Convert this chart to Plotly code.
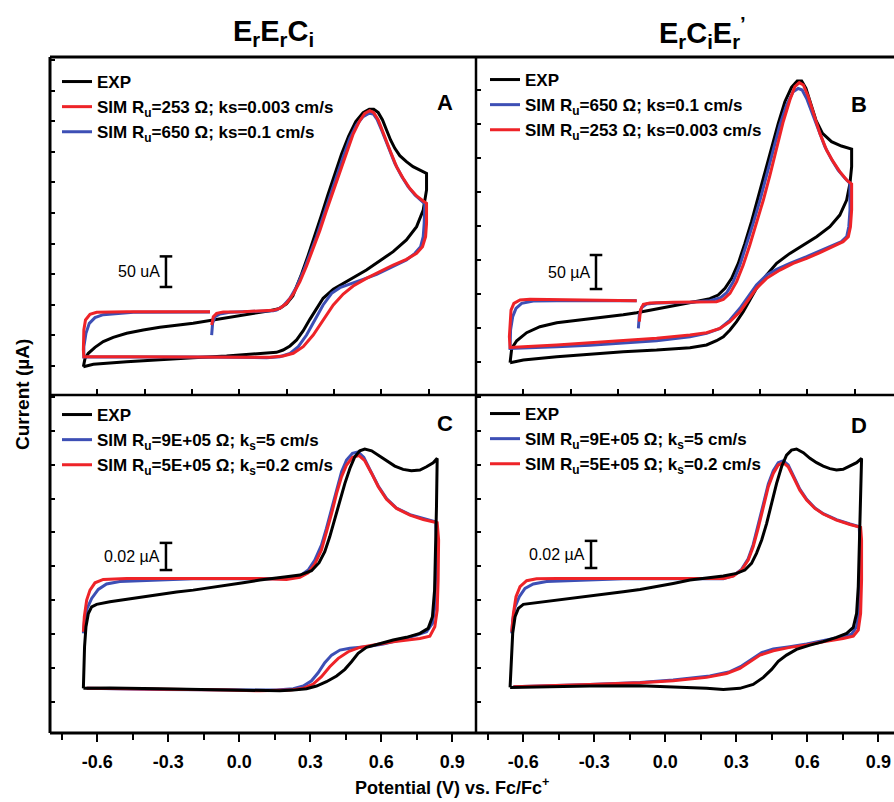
import plotly.graph_objects as go

FONT = "Liberation Sans, Arial, Helvetica, sans-serif"
BLACK = "#000000"
RED = "#ee2328"
BLUE = "#3d4fb5"

# ---------------- data: [potential (V vs Fc/Fc+), current (uA)] ----------------
A_EXP = [[-0.659,-1.1],[-0.617,2.7],[-0.476,7.1],[-0.336,10.9],[-0.195,13.6],[-0.054,16.3],[0.087,19.6],
         [0.157,22.3],[0.185,26.1],[0.214,32.7],[0.242,42.5],[0.270,57.7],[0.298,76.2],[0.326,94.2],
         [0.354,110.6],[0.397,125.3],[0.439,135.1],[0.481,144.3],[0.537,156.9],[0.594,172.1],[0.650,186.8],
         [0.706,205.9],[0.749,227.7],[0.777,254.9],[0.791,287.6],[0.791,314.8],[0.763,320.3],[0.734,325.7],
         [0.706,333.9],[0.678,343.7],[0.657,355.7],[0.639,369.3],[0.622,385.6],[0.605,402.0],[0.587,414.0],
         [0.568,419.4],[0.549,419.4],[0.523,414.0],[0.492,399.3],[0.462,375.8],[0.432,346.4],[0.403,313.7],
         [0.374,279.4],[0.346,245.1],[0.318,211.3],[0.290,179.7],[0.263,150.3],[0.243,129.6],[0.226,114.4],
         [0.199,101.3],[0.171,94.2],[0.129,90.4],[0.087,87.7],[0.016,83.3],[-0.054,78.4],[-0.124,73.5],
         [-0.195,69.7],[-0.265,66.4],[-0.336,63.2],[-0.406,58.8],[-0.476,53.4],[-0.533,46.8],[-0.575,39.8],
         [-0.610,30.5],[-0.638,20.7],[-0.652,12.5],[-0.659,-1.1]]
A_RED = [[-0.117,67.0],[-0.110,80.6],[-0.096,86.0],[-0.068,88.2],[0.016,88.8],[0.087,89.3],[0.143,90.9],
         [0.171,94.2],[0.199,102.4],[0.228,117.6],[0.256,137.8],[0.284,163.4],[0.312,190.6],[0.340,221.1],
         [0.368,253.8],[0.397,286.5],[0.425,319.2],[0.453,350.8],[0.481,379.1],[0.509,400.9],[0.530,412.9],
         [0.551,417.2],[0.568,414.0],[0.587,402.0],[0.608,380.2],[0.636,353.0],[0.664,325.7],[0.692,306.7],
         [0.720,290.3],[0.749,277.8],[0.777,269.6],[0.791,265.8],[0.791,233.1],[0.787,211.3],[0.774,195.0],
         [0.749,184.1],[0.706,174.3],[0.650,165.0],[0.594,154.1],[0.537,143.2],[0.481,130.7],[0.439,117.6],
         [0.397,99.7],[0.354,75.2],[0.312,50.6],[0.270,31.6],[0.228,20.7],[0.185,16.3],[0.129,14.2],
         [0.059,14.2],[-0.195,15.2],[-0.476,15.2],[-0.657,15.2],[-0.659,26.1],[-0.657,58.8],[-0.650,75.2],
         [-0.631,84.4],[-0.603,87.7],[-0.476,88.8],[-0.124,88.8]]
A_BLUE = [[-0.117,50.6],[-0.113,69.7],[-0.103,80.6],[-0.082,84.9],[-0.040,87.7],[0.087,88.8],[0.143,90.4],
          [0.157,91.5],[0.185,98.0],[0.214,110.6],[0.242,129.6],[0.270,154.1],[0.298,181.4],[0.326,211.3],
          [0.354,244.0],[0.382,276.7],[0.411,309.4],[0.439,342.1],[0.467,372.0],[0.495,393.8],[0.523,407.4],
          [0.549,412.9],[0.566,411.8],[0.582,403.1],[0.601,385.6],[0.629,358.4],[0.657,331.2],[0.685,310.5],
          [0.713,293.0],[0.742,279.4],[0.770,270.2],[0.784,264.7],[0.781,233.1],[0.777,211.3],[0.766,195.0],
          [0.742,184.1],[0.706,173.2],[0.664,165.0],[0.622,156.9],[0.580,149.8],[0.523,141.6],[0.467,134.0],
          [0.425,128.0],[0.390,118.7],[0.354,99.7],[0.319,75.2],[0.284,50.6],[0.249,31.6],[0.214,20.7],
          [0.171,15.2],[0.115,13.6],[-0.195,14.7],[-0.617,14.7],[-0.657,14.7],[-0.657,31.6],[-0.648,53.4],
          [-0.634,69.7],[-0.610,79.0],[-0.575,83.9],[-0.519,86.0],[-0.448,87.7],[-0.124,88.2]]

B_EXP = [[-0.656,-1.0],[-0.600,2.9],[-0.459,7.8],[-0.319,11.7],[-0.178,15.2],[-0.037,17.6],[0.104,21.1],
         [0.174,25.0],[0.216,31.3],[0.245,37.2],[0.273,47.0],[0.301,59.3],[0.329,74.0],[0.357,91.1],
         [0.385,108.3],[0.428,127.9],[0.470,145.0],[0.526,159.7],[0.583,172.0],[0.639,184.2],[0.695,198.9],
         [0.737,216.0],[0.766,238.1],[0.780,262.6],[0.787,287.1],[0.787,313.1],[0.744,317.5],[0.702,323.9],
         [0.664,336.1],[0.636,355.7],[0.614,380.2],[0.594,402.2],[0.576,413.0],[0.557,413.0],[0.533,403.7],
         [0.505,382.7],[0.477,350.8],[0.449,314.0],[0.421,277.3],[0.393,240.5],[0.364,206.2],[0.336,174.4],
         [0.308,145.0],[0.280,123.0],[0.252,108.3],[0.223,98.5],[0.188,93.1],[0.146,90.1],[0.104,87.2],
         [0.033,82.3],[-0.037,77.4],[-0.121,72.5],[-0.178,69.6],[-0.319,64.2],[-0.459,57.8],[-0.530,51.9],
         [-0.586,43.1],[-0.628,31.3],[-0.649,20.1],[-0.656,-1.0]]
B_RED = [[-0.110,59.3],[-0.105,76.4],[-0.093,84.7],[-0.065,86.7],[0.033,87.7],[0.160,88.7],[0.216,88.7],
         [0.245,92.1],[0.273,100.9],[0.301,118.1],[0.329,142.5],[0.357,172.0],[0.385,203.8],[0.414,238.1],
         [0.442,274.9],[0.470,314.0],[0.498,353.3],[0.526,385.1],[0.547,404.7],[0.566,410.6],[0.583,407.2],
         [0.604,390.0],[0.625,365.5],[0.653,336.1],[0.681,311.6],[0.709,294.5],[0.737,279.8],[0.766,267.5],
         [0.787,261.6],[0.787,223.4],[0.782,198.9],[0.773,184.2],[0.751,176.9],[0.709,169.5],[0.653,160.7],
         [0.597,152.4],[0.540,145.0],[0.484,135.2],[0.428,123.0],[0.385,108.3],[0.350,91.1],[0.315,74.0],
         [0.273,59.3],[0.231,49.5],[0.174,43.1],[0.104,39.7],[-0.037,34.8],[-0.178,31.3],[-0.319,28.4],
         [-0.459,25.0],[-0.600,22.5],[-0.656,21.5],[-0.659,37.2],[-0.656,61.7],[-0.652,76.4],[-0.640,86.2],
         [-0.614,91.1],[-0.572,92.1],[-0.459,91.6],[-0.319,91.1],[-0.121,90.1]]
B_BLUE = [[-0.114,49.5],[-0.110,69.1],[-0.100,80.3],[-0.079,85.2],[-0.037,86.7],[0.104,87.7],[0.188,90.1],
          [0.231,94.0],[0.259,101.9],[0.287,118.1],[0.315,142.5],[0.343,172.0],[0.371,203.8],[0.400,238.1],
          [0.428,274.9],[0.456,311.6],[0.484,348.4],[0.512,377.8],[0.540,397.4],[0.561,402.2],[0.578,399.8],
          [0.597,387.5],[0.618,368.0],[0.646,341.0],[0.674,316.5],[0.702,297.9],[0.730,282.2],[0.759,270.0],
          [0.780,262.6],[0.780,223.4],[0.775,198.9],[0.766,184.2],[0.744,176.9],[0.695,169.5],[0.639,160.7],
          [0.597,154.8],[0.526,145.0],[0.470,136.2],[0.428,127.9],[0.385,113.2],[0.350,96.0],[0.315,78.9],
          [0.273,61.7],[0.231,49.5],[0.174,42.1],[0.104,37.2],[-0.037,31.3],[-0.178,27.4],[-0.319,24.5],
          [-0.459,22.5],[-0.600,20.1],[-0.656,20.1],[-0.654,47.0],[-0.645,66.6],[-0.631,78.9],[-0.607,86.2],
          [-0.558,89.6],[-0.459,90.1],[-0.121,90.1]]

C_EXP = [[-0.659,0.0101],[-0.547,0.0103],[-0.336,0.0098],[-0.124,0.0093],[0.087,0.0088],[0.171,0.0083],
         [0.228,0.0088],[0.284,0.0098],[0.326,0.0118],[0.368,0.0150],[0.411,0.0192],[0.446,0.0241],
         [0.474,0.0297],[0.502,0.0359],[0.537,0.0403],[0.594,0.0432],[0.650,0.0457],[0.706,0.0477],
         [0.763,0.0506],[0.798,0.0543],[0.816,0.0629],[0.825,0.0825],[0.830,0.1120],[0.833,0.1440],
         [0.836,0.1796],[0.819,0.1764],[0.791,0.1734],[0.763,0.1710],[0.727,0.1705],[0.692,0.1715],
         [0.657,0.1739],[0.622,0.1779],[0.587,0.1820],[0.559,0.1852],[0.530,0.1865],[0.509,0.1852],
         [0.488,0.1808],[0.467,0.1722],[0.446,0.1612],[0.425,0.1476],[0.404,0.1341],[0.382,0.1218],
         [0.361,0.1108],[0.337,0.1027],[0.305,0.0968],[0.256,0.0936],[0.199,0.0924],[0.143,0.0914],
         [0.087,0.0899],[0.016,0.0879],[-0.054,0.0860],[-0.124,0.0845],[-0.195,0.0825],[-0.265,0.0811],
         [-0.336,0.0793],[-0.406,0.0776],[-0.476,0.0759],[-0.547,0.0739],[-0.603,0.0720],[-0.624,0.0702],
         [-0.638,0.0653],[-0.648,0.0555],[-0.654,0.0408],[-0.658,0.0236],[-0.659,0.0101]]
C_RED = [[-0.659,0.0518],[-0.655,0.0629],[-0.645,0.0752],[-0.631,0.0825],[-0.610,0.0879],[-0.575,0.0904],
         [-0.476,0.0911],[-0.195,0.0911],[0.087,0.0911],[0.199,0.0904],[0.256,0.0919],[0.291,0.0953],
         [0.319,0.1017],[0.347,0.1120],[0.368,0.1243],[0.390,0.1390],[0.411,0.1538],[0.432,0.1661],
         [0.453,0.1747],[0.478,0.1803],[0.506,0.1816],[0.530,0.1779],[0.559,0.1685],[0.587,0.1587],
         [0.622,0.1494],[0.664,0.1427],[0.721,0.1378],[0.777,0.1346],[0.836,0.1322],[0.842,0.1194],
         [0.840,0.0899],[0.836,0.0678],[0.826,0.0555],[0.805,0.0486],[0.763,0.0469],[0.706,0.0457],
         [0.650,0.0445],[0.580,0.0425],[0.509,0.0403],[0.460,0.0371],[0.418,0.0322],[0.382,0.0260],
         [0.347,0.0187],[0.312,0.0133],[0.270,0.0101],[0.214,0.0088],[0.087,0.0083],[-0.054,0.0088],
         [-0.336,0.0093],[-0.476,0.0101],[-0.645,0.0101]]
C_BLUE = [[-0.659,0.0506],[-0.654,0.0604],[-0.643,0.0690],[-0.624,0.0764],[-0.596,0.0830],[-0.561,0.0870],
          [-0.505,0.0889],[-0.195,0.0909],[0.087,0.0909],[0.199,0.0909],[0.256,0.0929],[0.291,0.0973],
          [0.319,0.1046],[0.347,0.1157],[0.368,0.1280],[0.390,0.1427],[0.411,0.1575],[0.432,0.1698],
          [0.453,0.1784],[0.478,0.1833],[0.502,0.1843],[0.526,0.1803],[0.554,0.1705],[0.587,0.1592],
          [0.622,0.1499],[0.664,0.1430],[0.721,0.1381],[0.777,0.1351],[0.830,0.1327],[0.833,0.1194],
          [0.830,0.0899],[0.826,0.0702],[0.816,0.0580],[0.791,0.0518],[0.749,0.0494],[0.678,0.0457],
          [0.608,0.0428],[0.537,0.0408],[0.467,0.0396],[0.425,0.0383],[0.390,0.0346],[0.361,0.0290],
          [0.333,0.0216],[0.305,0.0157],[0.270,0.0118],[0.228,0.0098],[0.157,0.0088],[-0.054,0.0088],
          [-0.336,0.0093],[-0.645,0.0101]]

D_EXP = [[-0.656,0.0108],[-0.530,0.0113],[-0.319,0.0118],[-0.107,0.0120],[0.033,0.0113],[0.174,0.0101],
         [0.245,0.0093],[0.315,0.0101],[0.371,0.0130],[0.414,0.0182],[0.449,0.0241],[0.477,0.0300],
         [0.512,0.0346],[0.554,0.0388],[0.611,0.0420],[0.667,0.0445],[0.723,0.0477],[0.766,0.0506],
         [0.794,0.0550],[0.808,0.0653],[0.815,0.0850],[0.819,0.1145],[0.822,0.1440],[0.829,0.1796],
         [0.808,0.1764],[0.780,0.1739],[0.751,0.1715],[0.723,0.1710],[0.695,0.1720],[0.667,0.1739],
         [0.639,0.1764],[0.611,0.1796],[0.583,0.1838],[0.554,0.1865],[0.533,0.1857],[0.512,0.1820],
         [0.491,0.1734],[0.470,0.1612],[0.449,0.1464],[0.428,0.1317],[0.407,0.1194],[0.385,0.1096],
         [0.364,0.1022],[0.336,0.0973],[0.301,0.0948],[0.245,0.0929],[0.174,0.0914],[0.104,0.0899],
         [0.033,0.0874],[-0.037,0.0850],[-0.107,0.0830],[-0.178,0.0813],[-0.319,0.0781],[-0.459,0.0752],
         [-0.558,0.0732],[-0.600,0.0720],[-0.621,0.0690],[-0.635,0.0629],[-0.645,0.0506],[-0.649,0.0334],
         [-0.654,0.0211],[-0.656,0.0108]]
D_RED = [[-0.649,0.0518],[-0.642,0.0653],[-0.631,0.0776],[-0.614,0.0850],[-0.586,0.0894],[-0.544,0.0909],
         [-0.459,0.0911],[-0.178,0.0911],[0.245,0.0911],[0.287,0.0929],[0.322,0.0973],[0.350,0.1046],
         [0.371,0.1145],[0.392,0.1280],[0.414,0.1440],[0.435,0.1587],[0.456,0.1685],[0.477,0.1747],
         [0.498,0.1764],[0.519,0.1734],[0.540,0.1661],[0.568,0.1562],[0.597,0.1489],[0.632,0.1427],
         [0.667,0.1386],[0.723,0.1341],[0.780,0.1309],[0.825,0.1287],[0.829,0.1194],[0.829,0.0899],
         [0.825,0.0653],[0.815,0.0531],[0.794,0.0486],[0.751,0.0469],[0.667,0.0445],[0.597,0.0420],
         [0.526,0.0403],[0.456,0.0378],[0.400,0.0346],[0.357,0.0297],[0.315,0.0248],[0.259,0.0211],
         [0.174,0.0182],[0.033,0.0157],[-0.107,0.0142],[-0.319,0.0130],[-0.459,0.0123],[-0.642,0.0113]]
D_BLUE = [[-0.649,0.0506],[-0.645,0.0604],[-0.635,0.0702],[-0.617,0.0776],[-0.593,0.0838],[-0.558,0.0870],
          [-0.502,0.0889],[-0.178,0.0909],[0.245,0.0909],[0.287,0.0931],[0.322,0.0978],[0.350,0.1056],
          [0.371,0.1160],[0.392,0.1297],[0.414,0.1459],[0.435,0.1607],[0.456,0.1705],[0.477,0.1764],
          [0.498,0.1779],[0.519,0.1747],[0.540,0.1671],[0.568,0.1570],[0.597,0.1494],[0.632,0.1430],
          [0.667,0.1388],[0.723,0.1344],[0.780,0.1312],[0.819,0.1292],[0.822,0.1194],[0.822,0.0899],
          [0.819,0.0678],[0.808,0.0555],[0.787,0.0501],[0.737,0.0477],[0.667,0.0450],[0.597,0.0428],
          [0.526,0.0408],[0.456,0.0391],[0.407,0.0364],[0.364,0.0317],[0.322,0.0265],[0.273,0.0224],
          [0.188,0.0192],[0.033,0.0162],[-0.107,0.0145],[-0.319,0.0130],[-0.642,0.0113]]

# scale bars: x position (V), bottom (uA), length (uA), label
SCALE_X = [-0.310, -0.293, -0.310, -0.314]
SCALE_Y0 = [129.1, 107.3, 0.0973, 0.0988]
SCALE_LEN = [50, 50, 0.02, 0.02]
SCALE_TEXT = ["50 uA", "50 \u00b5A", "0.02 \u00b5A", "0.02 \u00b5A"]

LEG_RED_AB = "SIM R<sub>u</sub>=253 \u03a9; ks=0.003 cm/s"
LEG_BLUE_AB = "SIM R<sub>u</sub>=650 \u03a9; ks=0.1 cm/s"
LEG_BLUE_CD = "SIM R<sub>u</sub>=9E+05 \u03a9; k<sub>s</sub>=5 cm/s"
LEG_RED_CD = "SIM R<sub>u</sub>=5E+05 \u03a9; k<sub>s</sub>=0.2 cm/s"

BOTTOM_XTICKS = [-0.6, -0.3, 0.0, 0.3, 0.6, 0.9]
BOTTOM_XTEXT = ["-0.6", "-0.3", "0.0", "0.3", "0.6", "0.9"]
BOTTOM_XMINOR = [-0.75, -0.45, -0.15, 0.15, 0.45, 0.75]
TOP_XTICKS = [-0.6, -0.4, -0.2, 0.0, 0.2, 0.4, 0.6, 0.8]

fig = go.Figure()


def add_curve(pairs, color, name, xa, ya, legend, rank, group):
    fig.add_trace(go.Scatter(
        x=[p[0] for p in pairs], y=[p[1] for p in pairs], mode="lines",
        line=dict(color=color, width=3), name=name, xaxis=xa, yaxis=ya,
        legend=legend, legendrank=rank, legendgroup=group, hoverinfo="skip"))


# Panel A (black, blue, red on top)
add_curve(A_EXP, BLACK, "EXP", "x", "y", "legend", 1, "a1")
add_curve(A_BLUE, BLUE, LEG_BLUE_AB, "x", "y", "legend", 3, "a3")
add_curve(A_RED, RED, LEG_RED_AB, "x", "y", "legend", 2, "a2")
# Panel B
add_curve(B_EXP, BLACK, "EXP", "x2", "y2", "legend2", 1, "b1")
add_curve(B_BLUE, BLUE, LEG_BLUE_AB, "x2", "y2", "legend2", 2, "b2")
add_curve(B_RED, RED, LEG_RED_AB, "x2", "y2", "legend2", 3, "b3")
# Panel C (sims first, experiment on top)
add_curve(C_BLUE, BLUE, LEG_BLUE_CD, "x3", "y3", "legend3", 2, "c2")
add_curve(C_RED, RED, LEG_RED_CD, "x3", "y3", "legend3", 3, "c3")
add_curve(C_EXP, BLACK, "EXP", "x3", "y3", "legend3", 1, "c1")
# Panel D
add_curve(D_BLUE, BLUE, LEG_BLUE_CD, "x4", "y4", "legend4", 2, "d2")
add_curve(D_RED, RED, LEG_RED_CD, "x4", "y4", "legend4", 3, "d3")
add_curve(D_EXP, BLACK, "EXP", "x4", "y4", "legend4", 1, "d1")

# scale bars
axes_pairs = [("x", "y"), ("x2", "y2"), ("x3", "y3"), ("x4", "y4")]
annotations = []
for (xa, ya), sx, sy, sl, st in zip(axes_pairs, SCALE_X, SCALE_Y0, SCALE_LEN, SCALE_TEXT):
    fig.add_trace(go.Scatter(
        x=[sx, sx], y=[sy, sy + sl], mode="lines+markers", xaxis=xa, yaxis=ya,
        line=dict(color="black", width=2.5),
        marker=dict(symbol="line-ew", size=9, line=dict(color="black", width=2.5)),
        showlegend=False, hoverinfo="skip"))
    annotations.append(dict(
        x=sx, y=sy + sl / 2, xref=xa, yref=ya, text=st, showarrow=False,
        xanchor="right", yanchor="middle", xshift=-4,
        font=dict(family=FONT, size=16, color="black")))

XSPLIT = 426 / 844.0


def top_x(domain, anchor, rng):
    return dict(domain=domain, anchor=anchor, range=rng, showgrid=False, zeroline=False,
                showline=False, ticks="inside", tickmode="array", tickvals=TOP_XTICKS,
                ticklen=6, tickwidth=2, tickcolor="black", showticklabels=False)


def bottom_x(domain, anchor, rng):
    return dict(domain=domain, anchor=anchor, range=rng, showgrid=False, zeroline=False,
                showline=False, ticks="outside", tickmode="array", tickvals=BOTTOM_XTICKS,
                ticktext=BOTTOM_XTEXT, ticklen=8, tickwidth=2, tickcolor="black",
                ticklabelstandoff=4,
                tickfont=dict(family=FONT, size=18, color="black", weight="bold"),
                minor=dict(tickmode="array", tickvals=BOTTOM_XMINOR, ticks="outside",
                           ticklen=6, tickwidth=2, tickcolor="black"))


def y_ax(domain, anchor, rng, dtick):
    return dict(domain=domain, anchor=anchor, range=rng, showgrid=False, zeroline=False,
                showline=False, ticks="inside", tick0=0, dtick=dtick, ticklen=5, tickwidth=2,
                tickcolor="black", showticklabels=False)


leg_common = dict(xanchor="left", yanchor="top", bgcolor="rgba(0,0,0,0)", borderwidth=0,
                  font=dict(family=FONT, size=17, color="black", weight="bold"),
                  tracegroupgap=4, traceorder="normal")

annotations += [
    dict(text="E<sub>r</sub>E<sub>r</sub>C<sub>i</sub>", x=(273 - 50) / 844, y=1.0355,
         xref="paper", yref="paper", showarrow=False, xanchor="center", yanchor="middle",
         font=dict(family=FONT, size=29, color="black", weight="bold")),
    dict(text="E<sub>r</sub>C<sub>i</sub>E<sub>r</sub><sup>\u2019</sup>", x=(702 - 50) / 844, y=1.0355,
         xref="paper", yref="paper", showarrow=False, xanchor="center", yanchor="middle",
         font=dict(family=FONT, size=29, color="black", weight="bold")),
    dict(text="A", x=(445 - 50) / 844, y=(733 - 88) / 676, xref="paper", yref="paper",
         showarrow=False, font=dict(family=FONT, size=22, color="black", weight="bold")),
    dict(text="B", x=(869 - 50) / 844, y=(733 - 90) / 676, xref="paper", yref="paper",
         showarrow=False, font=dict(family=FONT, size=22, color="black", weight="bold")),
    dict(text="C", x=(445 - 50) / 844, y=(733 - 423) / 676, xref="paper", yref="paper",
         showarrow=False, font=dict(family=FONT, size=22, color="black", weight="bold")),
    dict(text="D", x=(869 - 50) / 844, y=(733 - 425) / 676, xref="paper", yref="paper",
         showarrow=False, font=dict(family=FONT, size=22, color="black", weight="bold")),
    dict(text="Current (\u00b5A)", x=(22 - 50) / 844, y=(733 - 395) / 676, xref="paper",
         yref="paper", showarrow=False, textangle=-90, xanchor="center", yanchor="middle",
         font=dict(family=FONT, size=19, color="black", weight="bold")),
    dict(text="Potential (V) vs. Fc/Fc<sup>+</sup>", x=(452 - 50) / 844, y=(733 - 786) / 676,
         xref="paper", yref="paper", showarrow=False, xanchor="center", yanchor="middle",
         font=dict(family=FONT, size=18, color="black", weight="bold")),
]

frame = dict(color="black", width=3)
shapes = [
    dict(type="line", xref="paper", yref="paper", x0=0, x1=1, y0=1, y1=1, line=frame, layer="above"),
    dict(type="line", xref="paper", yref="paper", x0=0, x1=1, y0=0, y1=0, line=frame, layer="above"),
    dict(type="line", xref="paper", yref="paper", x0=0, x1=0, y0=0, y1=1, line=frame, layer="above"),
    dict(type="line", xref="paper", yref="paper", x0=XSPLIT, x1=XSPLIT, y0=0, y1=1,
         line=dict(color="black", width=2.5), layer="above"),
    dict(type="line", xref="paper", yref="paper", x0=0, x1=1, y0=0.5, y1=0.5,
         line=dict(color="black", width=2.5), layer="above"),
]

fig.update_layout(
    width=894, height=802,
    margin=dict(l=50, r=0, t=57, b=69),
    paper_bgcolor="white", plot_bgcolor="white",
    font=dict(family=FONT, color="black"),
    xaxis=top_x([0, XSPLIT], "y", [-0.8, 1.0]),
    xaxis2=top_x([XSPLIT, 1], "y2", [-0.8, 0.966]),
    xaxis3=bottom_x([0, XSPLIT], "y3", [-0.8, 1.0]),
    xaxis4=bottom_x([XSPLIT, 1], "y4", [-0.8, 0.966]),
    yaxis=y_ax([0.5, 1], "x", [-47.4, 504.9], 50),
    yaxis2=y_ax([0.5, 1], "x2", [-48.5, 448.4], 50),
    yaxis3=y_ax([0, 0.5], "x3", [-0.0228, 0.2263], 0.025),
    yaxis4=y_ax([0, 0.5], "x4", [-0.0228, 0.2263], 0.025),
    legend=dict(x=(57 - 50) / 844, y=(733 - 64) / 676, **leg_common),
    legend2=dict(x=(485 - 50) / 844, y=(733 - 62) / 676, **leg_common),
    legend3=dict(x=(57 - 50) / 844, y=(733 - 397) / 676, **leg_common),
    legend4=dict(x=(485 - 50) / 844, y=(733 - 396) / 676, **leg_common),
    annotations=annotations,
    shapes=shapes,
    showlegend=True,
)

fig.write_html("out.html", config={"displayModeBar": False},
               post_script="document.body.style.margin='0';document.body.style.overflow='hidden';")
